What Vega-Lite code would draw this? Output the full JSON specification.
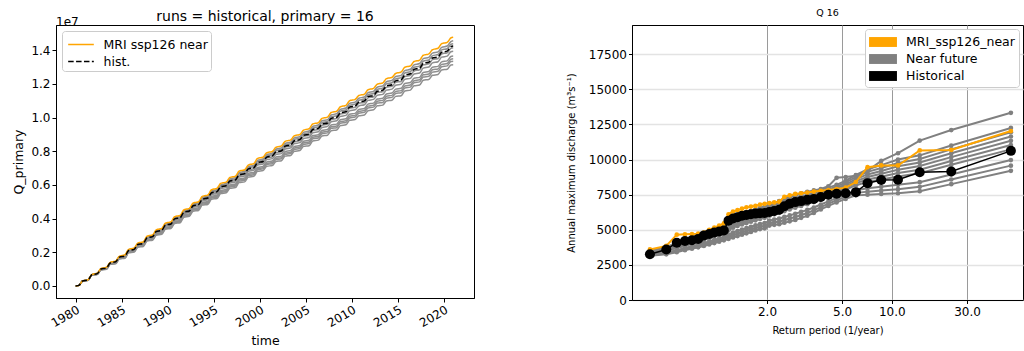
{
"$schema": "https://vega.github.io/schema/vega-lite/v6.json",
"background": "white",
"padding": {"left": 12, "top": 7, "right": 0, "bottom": 0},
"spacing": 90,
"resolve": {"scale": {"color": "independent", "strokeDash": "independent"}, "legend": {"color": "independent", "strokeDash": "independent"}},
"config": {
  "font": "DejaVu Sans",
  "view": {"stroke": "#000000", "strokeWidth": 1},
  "axis": {"domainColor": "#000000", "tickColor": "#000000", "labelColor": "#000000", "titleColor": "#000000", "titleFontWeight": "normal", "labelFont": "DejaVu Sans", "titleFont": "DejaVu Sans", "labelOverlap": false},
  "title": {"font": "DejaVu Sans", "fontWeight": "normal", "color": "#000000"},
  "legend": {"labelFont": "DejaVu Sans", "labelColor": "#000000"}
},
"datasets": {
"ts": [
{"t":1980.0,"h":0,"o":0,"g1":0,"g2":0,"g3":0,"g4":0,"g5":0,"g6":0,"g7":0,"g8":0},
{"t":1980.35,"h":3,"o":3,"g1":3,"g2":3,"g3":3,"g4":3,"g5":3,"g6":3,"g7":3,"g8":3},
{"t":1980.75,"h":29,"o":29,"g1":29,"g2":29,"g3":29,"g4":29,"g5":29,"g6":29,"g7":29,"g8":29},
{"t":1981.35,"h":36,"o":37,"g1":37,"g2":36,"g3":36,"g4":35,"g5":35,"g6":34,"g7":34,"g8":33},
{"t":1981.75,"h":66,"o":67,"g1":67,"g2":66,"g3":66,"g4":65,"g5":65,"g6":64,"g7":64,"g8":63},
{"t":1982.35,"h":73,"o":76,"g1":75,"g2":74,"g3":72,"g4":71,"g5":70,"g6":69,"g7":69,"g8":68},
{"t":1982.75,"h":100,"o":103,"g1":102,"g2":101,"g3":99,"g4":98,"g5":97,"g6":96,"g7":96,"g8":95},
{"t":1983.35,"h":107,"o":111,"g1":109,"g2":108,"g3":106,"g4":105,"g5":103,"g6":101,"g7":100,"g8":99},
{"t":1983.75,"h":136,"o":140,"g1":138,"g2":137,"g3":135,"g4":134,"g5":132,"g6":130,"g7":129,"g8":128},
{"t":1984.35,"h":143,"o":148,"g1":146,"g2":144,"g3":142,"g4":140,"g5":137,"g6":136,"g7":134,"g8":132},
{"t":1984.75,"h":171,"o":176,"g1":174,"g2":172,"g3":170,"g4":168,"g5":165,"g6":164,"g7":162,"g8":160},
{"t":1985.35,"h":178,"o":185,"g1":182,"g2":180,"g3":177,"g4":174,"g5":171,"g6":169,"g7":167,"g8":164},
{"t":1985.75,"h":210,"o":217,"g1":214,"g2":212,"g3":209,"g4":206,"g5":203,"g6":201,"g7":199,"g8":196},
{"t":1986.35,"h":217,"o":225,"g1":222,"g2":219,"g3":215,"g4":212,"g5":208,"g6":206,"g7":204,"g8":201},
{"t":1986.75,"h":246,"o":254,"g1":251,"g2":248,"g3":244,"g4":241,"g5":237,"g6":235,"g7":233,"g8":230},
{"t":1987.35,"h":253,"o":262,"g1":258,"g2":255,"g3":251,"g4":248,"g5":243,"g6":240,"g7":238,"g8":234},
{"t":1987.75,"h":286,"o":295,"g1":291,"g2":288,"g3":284,"g4":281,"g5":276,"g6":273,"g7":271,"g8":267},
{"t":1988.35,"h":293,"o":303,"g1":299,"g2":296,"g3":291,"g4":287,"g5":281,"g6":278,"g7":275,"g8":271},
{"t":1988.75,"h":323,"o":333,"g1":329,"g2":326,"g3":321,"g4":317,"g5":311,"g6":308,"g7":305,"g8":301},
{"t":1989.35,"h":330,"o":342,"g1":337,"g2":333,"g3":328,"g4":323,"g5":317,"g6":313,"g7":310,"g8":306},
{"t":1989.75,"h":361,"o":373,"g1":368,"g2":364,"g3":359,"g4":354,"g5":348,"g6":344,"g7":341,"g8":337},
{"t":1990.35,"h":368,"o":381,"g1":376,"g2":372,"g3":365,"g4":360,"g5":353,"g6":349,"g7":346,"g8":341},
{"t":1990.75,"h":398,"o":411,"g1":406,"g2":402,"g3":395,"g4":390,"g5":383,"g6":379,"g7":376,"g8":371},
{"t":1991.35,"h":405,"o":419,"g1":413,"g2":409,"g3":402,"g4":397,"g5":389,"g6":385,"g7":381,"g8":375},
{"t":1991.75,"h":438,"o":452,"g1":446,"g2":442,"g3":435,"g4":430,"g5":422,"g6":418,"g7":414,"g8":408},
{"t":1992.35,"h":445,"o":461,"g1":454,"g2":449,"g3":442,"g4":436,"g5":428,"g6":423,"g7":419,"g8":413},
{"t":1992.75,"h":476,"o":492,"g1":485,"g2":480,"g3":473,"g4":467,"g5":459,"g6":454,"g7":450,"g8":444},
{"t":1993.35,"h":483,"o":500,"g1":493,"g2":488,"g3":480,"g4":473,"g5":464,"g6":459,"g7":454,"g8":448},
{"t":1993.75,"h":515,"o":532,"g1":525,"g2":520,"g3":512,"g4":505,"g5":496,"g6":491,"g7":486,"g8":480},
{"t":1994.35,"h":522,"o":540,"g1":533,"g2":527,"g3":518,"g4":511,"g5":502,"g6":496,"g7":491,"g8":484},
{"t":1994.75,"h":553,"o":571,"g1":564,"g2":558,"g3":549,"g4":542,"g5":533,"g6":527,"g7":522,"g8":515},
{"t":1995.35,"h":560,"o":580,"g1":571,"g2":565,"g3":556,"g4":549,"g5":538,"g6":532,"g7":527,"g8":519},
{"t":1995.75,"h":589,"o":609,"g1":600,"g2":594,"g3":585,"g4":578,"g5":567,"g6":561,"g7":556,"g8":548},
{"t":1996.35,"h":596,"o":617,"g1":608,"g2":602,"g3":592,"g4":584,"g5":573,"g6":566,"g7":561,"g8":553},
{"t":1996.75,"h":623,"o":644,"g1":635,"g2":629,"g3":619,"g4":611,"g5":600,"g6":593,"g7":588,"g8":580},
{"t":1997.35,"h":630,"o":652,"g1":643,"g2":636,"g3":626,"g4":617,"g5":605,"g6":599,"g7":593,"g8":584},
{"t":1997.75,"h":660,"o":682,"g1":673,"g2":666,"g3":656,"g4":647,"g5":635,"g6":629,"g7":623,"g8":614},
{"t":1998.35,"h":667,"o":690,"g1":681,"g2":673,"g3":662,"g4":653,"g5":641,"g6":634,"g7":627,"g8":618},
{"t":1998.75,"h":695,"o":718,"g1":709,"g2":701,"g3":690,"g4":681,"g5":669,"g6":662,"g7":655,"g8":646},
{"t":1999.35,"h":702,"o":727,"g1":716,"g2":709,"g3":697,"g4":688,"g5":674,"g6":667,"g7":660,"g8":651},
{"t":1999.75,"h":732,"o":757,"g1":746,"g2":739,"g3":727,"g4":718,"g5":704,"g6":697,"g7":690,"g8":681},
{"t":2000.35,"h":739,"o":765,"g1":754,"g2":746,"g3":734,"g4":724,"g5":710,"g6":702,"g7":695,"g8":685},
{"t":2000.75,"h":765,"o":791,"g1":780,"g2":772,"g3":760,"g4":750,"g5":736,"g6":728,"g7":721,"g8":711},
{"t":2001.35,"h":772,"o":799,"g1":788,"g2":779,"g3":767,"g4":756,"g5":742,"g6":733,"g7":726,"g8":715},
{"t":2001.75,"h":796,"o":823,"g1":812,"g2":803,"g3":791,"g4":780,"g5":766,"g6":757,"g7":750,"g8":739},
{"t":2002.35,"h":803,"o":832,"g1":820,"g2":811,"g3":797,"g4":786,"g5":771,"g6":762,"g7":755,"g8":744},
{"t":2002.75,"h":830,"o":859,"g1":847,"g2":838,"g3":824,"g4":813,"g5":798,"g6":789,"g7":782,"g8":771},
{"t":2003.35,"h":837,"o":867,"g1":854,"g2":845,"g3":831,"g4":820,"g5":804,"g6":794,"g7":786,"g8":775},
{"t":2003.75,"h":862,"o":892,"g1":879,"g2":870,"g3":856,"g4":845,"g5":829,"g6":819,"g7":811,"g8":800},
{"t":2004.35,"h":869,"o":900,"g1":887,"g2":877,"g3":863,"g4":851,"g5":834,"g6":825,"g7":816,"g8":804},
{"t":2004.75,"h":894,"o":925,"g1":912,"g2":902,"g3":888,"g4":876,"g5":859,"g6":850,"g7":841,"g8":829},
{"t":2005.35,"h":901,"o":934,"g1":920,"g2":910,"g3":895,"g4":882,"g5":865,"g6":855,"g7":846,"g8":833},
{"t":2005.75,"h":929,"o":962,"g1":948,"g2":938,"g3":923,"g4":910,"g5":893,"g6":883,"g7":874,"g8":861},
{"t":2006.35,"h":936,"o":970,"g1":956,"g2":945,"g3":929,"g4":916,"g5":898,"g6":888,"g7":879,"g8":866},
{"t":2006.75,"h":961,"o":995,"g1":981,"g2":970,"g3":954,"g4":941,"g5":923,"g6":913,"g7":904,"g8":891},
{"t":2007.35,"h":968,"o":1003,"g1":988,"g2":977,"g3":961,"g4":948,"g5":929,"g6":918,"g7":909,"g8":895},
{"t":2007.75,"h":995,"o":1030,"g1":1015,"g2":1004,"g3":988,"g4":975,"g5":956,"g6":945,"g7":936,"g8":922},
{"t":2008.35,"h":1002,"o":1038,"g1":1023,"g2":1012,"g3":995,"g4":981,"g5":961,"g6":950,"g7":940,"g8":926},
{"t":2008.75,"h":1028,"o":1064,"g1":1049,"g2":1038,"g3":1021,"g4":1007,"g5":987,"g6":976,"g7":966,"g8":952},
{"t":2009.35,"h":1035,"o":1073,"g1":1057,"g2":1045,"g3":1028,"g4":1013,"g5":993,"g6":981,"g7":971,"g8":957},
{"t":2009.75,"h":1062,"o":1100,"g1":1084,"g2":1072,"g3":1055,"g4":1040,"g5":1020,"g6":1008,"g7":998,"g8":984},
{"t":2010.35,"h":1069,"o":1108,"g1":1092,"g2":1080,"g3":1061,"g4":1046,"g5":1025,"g6":1013,"g7":1003,"g8":988},
{"t":2010.75,"h":1092,"o":1131,"g1":1115,"g2":1103,"g3":1084,"g4":1069,"g5":1048,"g6":1036,"g7":1026,"g8":1011},
{"t":2011.35,"h":1099,"o":1139,"g1":1122,"g2":1110,"g3":1091,"g4":1076,"g5":1054,"g6":1042,"g7":1031,"g8":1015},
{"t":2011.75,"h":1125,"o":1165,"g1":1148,"g2":1136,"g3":1117,"g4":1102,"g5":1080,"g6":1068,"g7":1057,"g8":1041},
{"t":2012.35,"h":1132,"o":1174,"g1":1156,"g2":1143,"g3":1124,"g4":1108,"g5":1086,"g6":1073,"g7":1062,"g8":1046},
{"t":2012.75,"h":1156,"o":1198,"g1":1180,"g2":1167,"g3":1148,"g4":1132,"g5":1110,"g6":1097,"g7":1086,"g8":1070},
{"t":2013.35,"h":1163,"o":1206,"g1":1188,"g2":1175,"g3":1155,"g4":1138,"g5":1115,"g6":1102,"g7":1090,"g8":1074},
{"t":2013.75,"h":1188,"o":1231,"g1":1213,"g2":1200,"g3":1180,"g4":1163,"g5":1140,"g6":1127,"g7":1115,"g8":1099},
{"t":2014.35,"h":1195,"o":1239,"g1":1221,"g2":1207,"g3":1186,"g4":1169,"g5":1146,"g6":1132,"g7":1120,"g8":1103},
{"t":2014.75,"h":1218,"o":1262,"g1":1244,"g2":1230,"g3":1209,"g4":1192,"g5":1169,"g6":1155,"g7":1143,"g8":1126},
{"t":2015.35,"h":1225,"o":1271,"g1":1251,"g2":1237,"g3":1216,"g4":1199,"g5":1174,"g6":1160,"g7":1148,"g8":1130},
{"t":2015.75,"h":1253,"o":1299,"g1":1279,"g2":1265,"g3":1244,"g4":1227,"g5":1202,"g6":1188,"g7":1176,"g8":1158},
{"t":2016.35,"h":1260,"o":1307,"g1":1287,"g2":1273,"g3":1251,"g4":1233,"g5":1208,"g6":1193,"g7":1181,"g8":1163},
{"t":2016.75,"h":1286,"o":1333,"g1":1313,"g2":1299,"g3":1277,"g4":1259,"g5":1234,"g6":1219,"g7":1207,"g8":1189},
{"t":2017.35,"h":1293,"o":1341,"g1":1321,"g2":1306,"g3":1284,"g4":1265,"g5":1239,"g6":1225,"g7":1212,"g8":1193},
{"t":2017.75,"h":1322,"o":1370,"g1":1350,"g2":1335,"g3":1313,"g4":1294,"g5":1268,"g6":1254,"g7":1241,"g8":1222},
{"t":2018.35,"h":1329,"o":1378,"g1":1358,"g2":1342,"g3":1319,"g4":1300,"g5":1274,"g6":1259,"g7":1245,"g8":1226},
{"t":2018.75,"h":1354,"o":1403,"g1":1383,"g2":1367,"g3":1344,"g4":1325,"g5":1299,"g6":1284,"g7":1270,"g8":1251},
{"t":2019.35,"h":1361,"o":1412,"g1":1390,"g2":1375,"g3":1351,"g4":1332,"g5":1304,"g6":1289,"g7":1275,"g8":1256},
{"t":2019.75,"h":1388,"o":1439,"g1":1417,"g2":1402,"g3":1378,"g4":1359,"g5":1331,"g6":1316,"g7":1302,"g8":1283},
{"t":2020.35,"h":1395,"o":1447,"g1":1425,"g2":1409,"g3":1385,"g4":1365,"g5":1337,"g6":1321,"g7":1307,"g8":1287},
{"t":2020.75,"h":1421,"o":1473,"g1":1451,"g2":1435,"g3":1411,"g4":1391,"g5":1363,"g6":1347,"g7":1333,"g8":1313},
{"t":2021.0,"h":1425,"o":1478,"g1":1456,"g2":1439,"g3":1415,"g4":1394,"g5":1366,"g6":1349,"g7":1335,"g8":1314}
],
"rp": [
{"x":4.0467,"h":10620,"o":12030,"g1":13330,"g2":12250,"g3":11945,"g4":11640,"g5":11335,"g6":11030,"g7":10725,"g8":9962,"g9":9566,"g10":9200},
{"x":3.1469,"h":9150,"o":10680,"g1":12100,"g2":11000,"g3":10725,"g4":10450,"g5":10175,"g6":9900,"g7":9625,"g8":8938,"g9":8580,"g10":8250},
{"x":2.6712,"h":9100,"o":10650,"g1":11350,"g2":10300,"g3":10045,"g4":9790,"g5":9535,"g6":9280,"g7":9025,"g8":8388,"g9":8056,"g10":7750},
{"x":2.3429,"h":8560,"o":9580,"g1":10450,"g2":10000,"g3":9760,"g4":9520,"g5":9280,"g6":9040,"g7":8800,"g8":8200,"g9":7888,"g10":7600},
{"x":2.0901,"h":8550,"o":9580,"g1":9900,"g2":9600,"g3":9395,"g4":9190,"g5":8985,"g6":8780,"g7":8575,"g8":8062,"g9":7796,"g10":7550},
{"x":1.8833,"h":8320,"o":9460,"g1":9200,"g2":9300,"g3":9120,"g4":8940,"g5":8760,"g6":8580,"g7":8400,"g8":7950,"g9":7716,"g10":7500},
{"x":1.7075,"h":7680,"o":8400,"g1":8850,"g2":8900,"g3":8755,"g4":8610,"g5":8465,"g6":8320,"g7":8175,"g8":7812,"g9":7624,"g10":7450},
{"x":1.5537,"h":7600,"o":8000,"g1":8750,"g2":8500,"g3":8370,"g4":8240,"g5":8110,"g6":7980,"g7":7850,"g8":7525,"g9":7356,"g10":7200},
{"x":1.4167,"h":7560,"o":7900,"g1":8700,"g2":8200,"g3":8075,"g4":7950,"g5":7825,"g6":7700,"g7":7575,"g8":7262,"g9":7100,"g10":6950},
{"x":1.2926,"h":7500,"o":7830,"g1":8100,"g2":8000,"g3":7870,"g4":7740,"g5":7610,"g6":7480,"g7":7350,"g8":7025,"g9":6856,"g10":6700},
{"x":1.1787,"h":7330,"o":7780,"g1":7900,"g2":7850,"g3":7710,"g4":7570,"g5":7430,"g6":7290,"g7":7150,"g8":6800,"g9":6618,"g10":6450},
{"x":1.0731,"h":7200,"o":7720,"g1":7800,"g2":7750,"g3":7595,"g4":7440,"g5":7285,"g6":7130,"g7":6975,"g8":6588,"g9":6386,"g10":6200},
{"x":0.9745,"h":7130,"o":7650,"g1":7700,"g2":7650,"g3":7485,"g4":7320,"g5":7155,"g6":6990,"g7":6825,"g8":6412,"g9":6198,"g10":6000},
{"x":0.8815,"h":7040,"o":7600,"g1":7600,"g2":7550,"g3":7380,"g4":7210,"g5":7040,"g6":6870,"g7":6700,"g8":6275,"g9":6054,"g10":5850},
{"x":0.7933,"h":6970,"o":7550,"g1":7500,"g2":7450,"g3":7275,"g4":7100,"g5":6925,"g6":6750,"g7":6575,"g8":6138,"g9":5910,"g10":5700},
{"x":0.7092,"h":6860,"o":7450,"g1":7350,"g2":7300,"g3":7130,"g4":6960,"g5":6790,"g6":6620,"g7":6450,"g8":6025,"g9":5804,"g10":5600},
{"x":0.6286,"h":6670,"o":7350,"g1":7200,"g2":7150,"g3":6985,"g4":6820,"g5":6655,"g6":6490,"g7":6325,"g8":5912,"g9":5698,"g10":5500},
{"x":0.5508,"h":6430,"o":7000,"g1":7050,"g2":7000,"g3":6840,"g4":6680,"g5":6520,"g6":6360,"g7":6200,"g8":5800,"g9":5592,"g10":5400},
{"x":0.4756,"h":6340,"o":6950,"g1":6900,"g2":6850,"g3":6700,"g4":6550,"g5":6400,"g6":6250,"g7":6100,"g8":5725,"g9":5530,"g10":5350},
{"x":0.4024,"h":6270,"o":6900,"g1":6750,"g2":6700,"g3":6560,"g4":6420,"g5":6280,"g6":6140,"g7":6000,"g8":5650,"g9":5468,"g10":5300},
{"x":0.3310,"h":6200,"o":6850,"g1":6650,"g2":6600,"g3":6450,"g4":6300,"g5":6150,"g6":6000,"g7":5850,"g8":5475,"g9":5280,"g10":5100},
{"x":0.2610,"h":6180,"o":6800,"g1":6550,"g2":6500,"g3":6355,"g4":6210,"g5":6065,"g6":5920,"g7":5775,"g8":5412,"g9":5224,"g10":5050},
{"x":0.1920,"h":6150,"o":6700,"g1":6450,"g2":6400,"g3":6255,"g4":6110,"g5":5965,"g6":5820,"g7":5675,"g8":5312,"g9":5124,"g10":4950},
{"x":0.1239,"h":6100,"o":6650,"g1":6350,"g2":6300,"g3":6155,"g4":6010,"g5":5865,"g6":5720,"g7":5575,"g8":5212,"g9":5024,"g10":4850},
{"x":0.0564,"h":6050,"o":6600,"g1":6250,"g2":6200,"g3":6055,"g4":5910,"g5":5765,"g6":5620,"g7":5475,"g8":5112,"g9":4924,"g10":4750},
{"x":-0.0110,"h":6000,"o":6500,"g1":6150,"g2":6100,"g3":5955,"g4":5810,"g5":5665,"g6":5520,"g7":5375,"g8":5012,"g9":4824,"g10":4650},
{"x":-0.0783,"h":5900,"o":6400,"g1":6050,"g2":6000,"g3":5855,"g4":5710,"g5":5565,"g6":5420,"g7":5275,"g8":4912,"g9":4724,"g10":4550},
{"x":-0.1461,"h":5800,"o":6300,"g1":5900,"g2":5850,"g3":5710,"g4":5570,"g5":5430,"g6":5290,"g7":5150,"g8":4800,"g9":4618,"g10":4450},
{"x":-0.2145,"h":5650,"o":6100,"g1":5650,"g2":5600,"g3":5475,"g4":5350,"g5":5225,"g6":5100,"g7":4975,"g8":4662,"g9":4500,"g10":4350},
{"x":-0.2842,"h":4950,"o":5450,"g1":5250,"g2":5200,"g3":5105,"g4":5010,"g5":4915,"g6":4820,"g7":4725,"g8":4488,"g9":4364,"g10":4250},
{"x":-0.3554,"h":4880,"o":5300,"g1":5150,"g2":5100,"g3":5005,"g4":4910,"g5":4815,"g6":4720,"g7":4625,"g8":4388,"g9":4264,"g10":4150},
{"x":-0.4289,"h":4800,"o":5150,"g1":5050,"g2":5000,"g3":4905,"g4":4810,"g5":4715,"g6":4620,"g7":4525,"g8":4288,"g9":4164,"g10":4050},
{"x":-0.5054,"h":4700,"o":5000,"g1":4900,"g2":4850,"g3":4760,"g4":4670,"g5":4580,"g6":4490,"g7":4400,"g8":4175,"g9":4058,"g10":3950},
{"x":-0.5859,"h":4600,"o":4800,"g1":4750,"g2":4700,"g3":4615,"g4":4530,"g5":4445,"g6":4360,"g7":4275,"g8":4062,"g9":3952,"g10":3850},
{"x":-0.6721,"h":4350,"o":4720,"g1":4600,"g2":4550,"g3":4470,"g4":4390,"g5":4310,"g6":4230,"g7":4150,"g8":3950,"g9":3846,"g10":3750},
{"x":-0.7660,"h":4250,"o":4700,"g1":4400,"g2":4350,"g3":4280,"g4":4210,"g5":4140,"g6":4070,"g7":4000,"g8":3825,"g9":3734,"g10":3650},
{"x":-0.8715,"h":4200,"o":4680,"g1":4200,"g2":4150,"g3":4090,"g4":4030,"g5":3970,"g6":3910,"g7":3850,"g8":3700,"g9":3622,"g10":3550},
{"x":-0.9953,"h":4080,"o":4650,"g1":4050,"g2":4000,"g3":3940,"g4":3880,"g5":3820,"g6":3760,"g7":3700,"g8":3550,"g9":3472,"g10":3400},
{"x":-1.1532,"h":3600,"o":3850,"g1":3800,"g2":3750,"g3":3700,"g4":3650,"g5":3600,"g6":3550,"g7":3500,"g8":3375,"g9":3310,"g10":3250},
{"x":-1.4001,"h":3260,"o":3600,"g1":3480,"g2":3450,"g3":3420,"g4":3390,"g5":3360,"g6":3330,"g7":3300,"g8":3225,"g9":3186,"g10":3150}
]
},
"hconcat": [
{
  "width": 418,
  "height": 273,
  "title": {"text": "runs = historical, primary = 16", "fontSize": 14, "offset": -7.5},
  "layer": [
    {
      "data": {"name": "ts"},
      "transform": [{"fold": ["g1","g2","g3","g4","g5","g6","g7","g8","o","h"], "as": ["run","v"]}],
      "encoding": {
        "x": {"field": "t", "type": "quantitative", "scale": {"domain": [1977.86, 2023.26], "nice": false, "zero": false},
              "axis": {"title": "time", "titleFontSize": 12.5, "labelFontSize": 12, "values": [1980,1985,1990,1995,2000,2005,2010,2015,2020], "format": "d", "labelAngle": -30, "labelAlign": "right", "labelBaseline": "top", "tickSize": 4, "labelPadding": 2, "titlePadding": 6, "grid": false, "labelFlush": false, "labelOverlap": false}},
        "y": {"field": "v", "type": "quantitative", "scale": {"domain": [-72, 1550], "nice": false, "zero": false},
              "axis": {"title": "Q_primary", "titleFontSize": 12.5, "labelFontSize": 12, "values": [0,200,400,600,800,1000,1200,1400], "labelExpr": "format(datum.value/1000, '.1f')", "tickSize": 4, "labelPadding": 2, "titlePadding": 5, "grid": false, "labelOverlap": false, "labelFlush": false}}
      },
      "layer": [
        {
          "transform": [{"filter": "datum.run != 'o' && datum.run != 'h'"}],
          "mark": {"type": "line", "color": "#8f8f8f", "strokeWidth": 1.5, "interpolate": "monotone"},
          "encoding": {"detail": {"field": "run"}}
        },
        {
          "transform": [{"filter": "datum.run == 'o' || datum.run == 'h'"}],
          "mark": {"type": "line", "strokeWidth": 1.5, "interpolate": "monotone"},
          "encoding": {
            "color": {"field": "run", "type": "nominal", "scale": {"domain": ["o","h"], "range": ["#FFA500","#000000"]},
                      "legend": {"title": null, "orient": "top-left", "offset": 6, "fillColor": "white", "strokeColor": "#cccccc", "cornerRadius": 3, "padding": 3, "labelFontSize": 12.5, "symbolType": "M-1.35,0H1.35", "symbolSize": 361, "symbolStrokeWidth": 1.5, "symbolOffset": 5.5, "labelOffset": 12, "rowPadding": 0, "labelExpr": "datum.label == 'o' ? 'MRI ssp126 near' : 'hist.'"}},
            "strokeDash": {"field": "run", "type": "nominal", "scale": {"domain": ["o","h"], "range": [[1,0],[5.5,2.4]]},
                      "legend": {"title": null, "orient": "top-left", "offset": 6, "fillColor": "white", "strokeColor": "#cccccc", "cornerRadius": 3, "padding": 3, "labelFontSize": 12.5, "symbolType": "M-1.35,0H1.35", "symbolSize": 361, "symbolStrokeWidth": 1.5, "symbolOffset": 5.5, "labelOffset": 12, "rowPadding": 0, "labelExpr": "datum.label == 'o' ? 'MRI ssp126 near' : 'hist.'"}}
          }
        }
      ]
    },
    {
      "data": {"values": [{}]},
      "mark": {"type": "text", "align": "left", "baseline": "alphabetic", "dy": 1, "fontSize": 12},
      "encoding": {
        "x": {"datum": 1977.86, "type": "quantitative",
              "axis": {"title": "time", "titleFontSize": 12.5, "labelFontSize": 12, "values": [1980,1985,1990,1995,2000,2005,2010,2015,2020], "format": "d", "labelAngle": -30, "labelAlign": "right", "labelBaseline": "top", "tickSize": 4, "labelPadding": 2, "titlePadding": 6, "grid": false, "labelFlush": false, "labelOverlap": false}},
        "y": {"datum": 1550, "type": "quantitative",
              "axis": {"title": "Q_primary", "titleFontSize": 12.5, "labelFontSize": 12, "values": [0,200,400,600,800,1000,1200,1400], "labelExpr": "format(datum.value/1000, '.1f')", "tickSize": 4, "labelPadding": 2, "titlePadding": 5, "grid": false, "labelOverlap": false, "labelFlush": false}},
        "text": {"value": "1e7"}
      }
    }
  ]
},
{
  "width": 391,
  "height": 275,
  "title": {"text": "Q 16", "fontSize": 9.5, "offset": 7.5},
  "data": {"name": "rp"},
  "transform": [{"fold": ["g1","g2","g3","g4","g5","g6","g7","g8","g9","g10","o","h"], "as": ["run","q"]}],
  "encoding": {
    "x": {"field": "x", "type": "quantitative", "scale": {"domain": [-1.6706, 4.2294], "nice": false, "zero": false},
          "axis": {"title": "Return period (1/year)", "titleFontSize": 10, "labelFontSize": 12, "values": [0.3665, 1.4999, 2.2504, 3.3843], "labelExpr": "datum.value < 1 ? '2.0' : datum.value < 2 ? '5.0' : datum.value < 3 ? '10.0' : '30.0'", "grid": true, "gridColor": "#9a9a9a", "gridWidth": 1, "tickSize": 3.5, "labelPadding": 3, "titlePadding": 8, "labelFlush": false}},
    "y": {"field": "q", "type": "quantitative", "scale": {"domain": [0, 19580], "nice": false, "zero": false},
          "axis": {"title": "Annual maximum discharge (m³s⁻¹)", "titleFontSize": 10, "labelFontSize": 12, "values": [0,2500,5000,7500,10000,12500,15000,17500], "format": "d", "grid": true, "gridColor": "#e3e3e3", "gridWidth": 1.5, "tickSize": 3.5, "labelPadding": 2, "titlePadding": 12}}
  },
  "layer": [
    {
      "transform": [{"filter": "datum.run != 'o' && datum.run != 'h'"}],
      "mark": {"type": "line", "color": "#808080", "strokeWidth": 2},
      "encoding": {"detail": {"field": "run"}}
    },
    {
      "transform": [{"filter": "datum.run != 'o' && datum.run != 'h'"}],
      "mark": {"type": "circle", "size": 22, "opacity": 1},
      "encoding": {"color": {"datum": "Near future", "type": "nominal",
        "scale": {"domain": ["MRI_ssp126_near","Near future","Historical"], "range": ["#FFA500","#808080","#000000"]},
        "legend": {"title": null, "orient": "top-right", "offset": 4, "fillColor": "white", "strokeColor": "#cccccc", "cornerRadius": 3, "padding": 4, "labelFontSize": 12.5, "symbolType": "M-1.55,-0.55H1.55V0.55H-1.55Z", "symbolSize": 324, "symbolStrokeWidth": 0, "symbolOpacity": 1, "symbolOffset": 5, "labelOffset": 14, "rowPadding": 1}}}
    },
    {
      "transform": [{"filter": "datum.run == 'o'"}],
      "mark": {"type": "line", "color": "#FFA500", "strokeWidth": 2}
    },
    {
      "transform": [{"filter": "datum.run == 'o'"}],
      "mark": {"type": "circle", "size": 22, "opacity": 1},
      "encoding": {"color": {"datum": "MRI_ssp126_near", "type": "nominal"}}
    },
    {
      "transform": [{"filter": "datum.run == 'h'"}],
      "mark": {"type": "line", "color": "#000000", "strokeWidth": 1.5}
    },
    {
      "transform": [{"filter": "datum.run == 'h'"}],
      "mark": {"type": "circle", "size": 100, "opacity": 1},
      "encoding": {"color": {"datum": "Historical", "type": "nominal"}}
    }
  ]
}
]
}
